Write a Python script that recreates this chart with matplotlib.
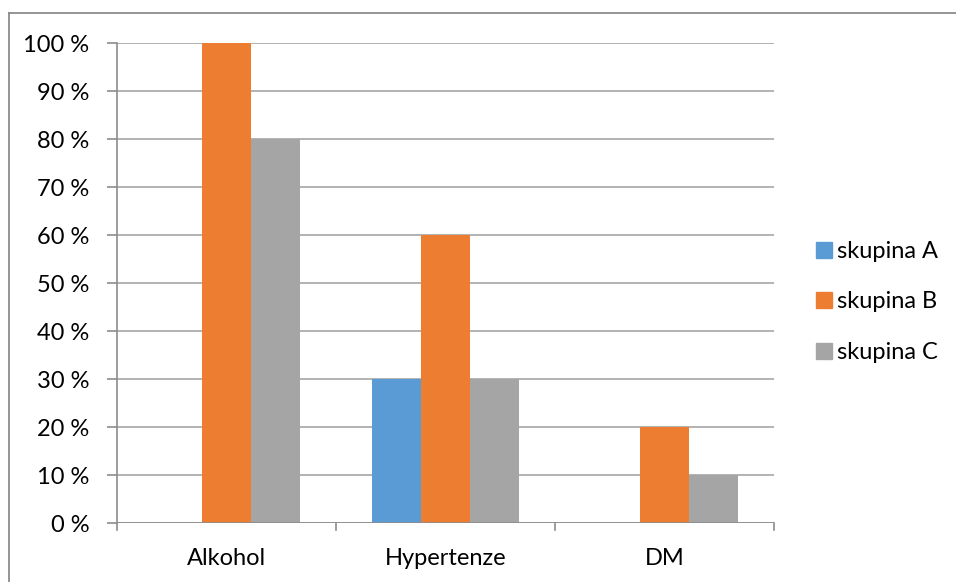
import matplotlib
matplotlib.use("Agg")
import matplotlib.pyplot as plt
from matplotlib.lines import Line2D
import numpy as np

categories = ["Alkohol", "Hypertenze", "DM"]
series_names = ["skupina A", "skupina B", "skupina C"]
skupina_a = [0, 30, 0]
skupina_b = [100, 60, 20]
skupina_c = [80, 30, 10]
y_ticks = [0, 10, 20, 30, 40, 50, 60, 70, 80, 90, 100]
y_tick_labels = [f"{v} %" for v in y_ticks]

colors = ["#5B9BD5", "#ED7D31", "#A5A5A5"]
grid_color = "#A6A6A6"
axis_color = "#8C8C8C"
text_size = 17

plt.rcParams["font.family"] = ["Lato", "DejaVu Sans"]

fig = plt.figure(figsize=(9.56, 5.82), dpi=100)
ax = fig.add_axes([117 / 956, 1 - 523 / 582, (774 - 117) / 956, (523 - 43) / 582])

x = np.arange(len(categories))
bar_w = 49 / 219  # bar width as fraction of one category slot
offsets = [-bar_w, 0, bar_w]
for vals, off, col, name in zip([skupina_a, skupina_b, skupina_c], offsets, colors, series_names):
    ax.bar(x + off, vals, width=bar_w, color=col, label=name, zorder=3)

ax.set_xlim(-0.5, len(categories) - 0.5)
ax.set_ylim(0, 100)
ax.set_yticks(y_ticks)
ax.set_yticklabels(y_tick_labels, fontsize=text_size)
ax.set_xticks(x)
ax.set_xticklabels(categories, fontsize=text_size)
ax.tick_params(axis="x", length=0, pad=18)
ax.tick_params(axis="y", length=7, color=axis_color, width=1.2, pad=13)

# category boundary tick marks below the axis
for b in np.arange(-0.5, len(categories)):
    ax.plot([b, b], [0, -1.5], color=axis_color, lw=1.2, clip_on=False, zorder=4)

ax.grid(axis="y", color=grid_color, lw=1.2, zorder=0)
ax.set_axisbelow(True)
for side in ["top", "right", "bottom"]:
    ax.spines[side].set_visible(False)
ax.spines["left"].set_color(axis_color)
ax.spines["left"].set_linewidth(1.2)
ax.axhline(0, color=axis_color, lw=1.2, zorder=4)

handles = [Line2D([], [], marker="s", linestyle="none", markersize=11,
                  markerfacecolor=c, markeredgecolor=c) for c in colors]
fig.legend(handles, series_names, loc="center left",
           bbox_to_anchor=(812 / 956, 1 - 302 / 582), frameon=False,
           fontsize=text_size, labelspacing=1.25, handletextpad=0.05,
           handlelength=1.0, borderaxespad=0, borderpad=0)

# outer frame lines
fig.add_artist(Line2D([9 / 956, 9 / 956], [0, 1 - 13 / 582], transform=fig.transFigure,
                      color="#8C8C8C", lw=1.3))
fig.add_artist(Line2D([9 / 956, 1], [1 - 13 / 582, 1 - 13 / 582], transform=fig.transFigure,
                      color="#8C8C8C", lw=1.3))

fig.savefig("out.png", dpi=100)
